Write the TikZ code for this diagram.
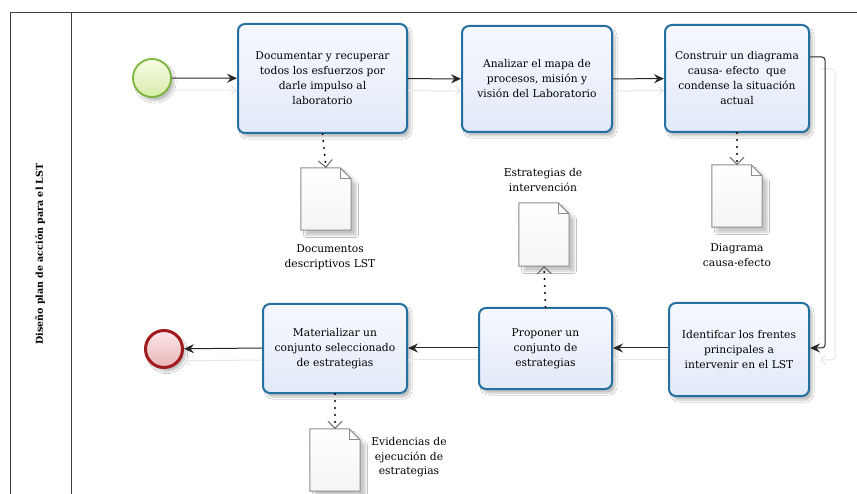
\documentclass[tikz,border=0pt]{standalone}
\usepackage{fontspec}
\setmainfont{DejaVu Serif}
\usetikzlibrary{arrows.meta,shadows.blur,calc}
\definecolor{boxborder}{RGB}{36,112,160}
\definecolor{boxtop}{RGB}{246,248,254}
\definecolor{boxbot}{RGB}{226,234,248}
\definecolor{startborder}{RGB}{122,180,60}
\definecolor{starttop}{RGB}{248,252,230}
\definecolor{startbot}{RGB}{214,236,170}
\definecolor{endborder}{RGB}{160,26,30}
\definecolor{endtop}{RGB}{252,232,232}
\definecolor{endbot}{RGB}{232,180,182}
\definecolor{docline}{RGB}{140,140,140}
\definecolor{ghostcol}{RGB}{230,230,232}
\tikzset{
  lanelines/.style={draw=black!75,line width=0.8pt},
  taskbox/.style={rounded corners=7pt,draw=boxborder,line width=2pt,
    top color=boxtop,bottom color=boxbot,align=center,
    font=\fontsize{10.7}{15}\selectfont,inner sep=0pt,
    blur shadow={shadow xshift=3pt,shadow yshift=-4pt,shadow blur steps=8,shadow opacity=25}},
  startev/.style={circle,draw=startborder,line width=1.8pt,minimum size=38pt,inner sep=0pt,
    top color=starttop,bottom color=startbot,
    blur shadow={shadow xshift=3pt,shadow yshift=-4pt,shadow blur steps=8,shadow opacity=25}},
  endev/.style={circle,draw=endborder,line width=3pt,minimum size=37pt,inner sep=0pt,
    top color=endtop,bottom color=endbot,
    blur shadow={shadow xshift=3pt,shadow yshift=-4pt,shadow blur steps=8,shadow opacity=25}},
  docnode/.style={minimum width=50pt,minimum height=62pt,inner sep=0pt},
  docshape/.style={draw=docline,line width=1pt,top color=white,bottom color=black!4,
    blur shadow={shadow xshift=5pt,shadow yshift=-5pt,shadow blur steps=8,shadow opacity=22}},
  doclabel/.style={align=center,font=\fontsize{10.7}{15}\selectfont,inner sep=0pt},
  flow/.style={draw=black!85,line width=1pt,-{Stealth[length=10pt,width=9pt,inset=3.5pt]}},
  ghost/.style={draw=ghostcol,line width=1pt,-{Straight Barb[length=5pt,width=9pt,line width=1pt]}},
  assoc/.style={draw=black,line width=2.2pt,line cap=round,dash pattern=on 0pt off 7pt,
    -{Straight Barb[length=7pt,width=14pt,line width=0.9pt,color=black!65,line cap=butt]}},
}
\newcommand\drawdoc[1]{%
  \path[docshape] (#1.south west) -- (#1.north west) -- ($(#1.north east)+(-11pt,0)$)
     -- ($(#1.north east)+(0,-11pt)$) -- (#1.south east) -- cycle;
  \draw[docline,line width=0.9pt] ($(#1.north east)+(-11pt,0)$) -- ($(#1.north east)+(-11pt,-11pt)$)
     -- ($(#1.north east)+(0,-11pt)$);
}
\begin{document}
\begin{tikzpicture}[x=1pt,y=-1pt]
\clip (0,0) rectangle (857,494);
\fill[white] (0,0) rectangle (857,494);
% lane frame
\draw[lanelines] (857,12) -- (10,12) -- (10,494);
\draw[lanelines] (71,12) -- (71,494);
\node[rotate=90,font=\bfseries\fontsize{9.5}{11}\selectfont] (lane) at (40,254) {Diseño plan de acción para el LST};

% events
\node[startev] (start) at (152,78) {};
\node[endev] (end) at (164,349) {};

% tasks
\node[taskbox,minimum width=169pt,minimum height=109pt] (b1) at (322.5,78.5)
  {Documentar y recuperar\\todos los esfuerzos por\\darle impulso al\\laboratorio};
\node[taskbox,minimum width=150pt,minimum height=106pt] (b2) at (537,79)
  {Analizar el mapa de\\procesos, misión y\\visión del Laboratorio};
\node[taskbox,minimum width=144pt,minimum height=107pt] (b3) at (737,78.5)
  {Construir un diagrama\\causa- efecto\ \ que\\condense la situación\\actual};
\node[taskbox,minimum width=140pt,minimum height=93pt] (b4) at (739,349.5)
  {Identifcar los frentes\\principales a\\intervenir en el LST};
\node[taskbox,minimum width=133pt,minimum height=81pt] (b5) at (545.5,348.5)
  {Proponer un\\conjunto de\\estrategias};
\node[taskbox,minimum width=144pt,minimum height=89pt] (b6) at (335,348.5)
  {Materializar un\\conjunto seleccionado\\de estrategias};

% documents
\node[docnode] (d1) at (326,199) {};
\node[docnode,minimum height=63pt] (d2) at (544,234.5) {};
\node[docnode] (d3) at (737,196) {};
\node[docnode] (d4) at (335,460) {};
\drawdoc{d1}
\drawdoc{d2}
\drawdoc{d3}
\drawdoc{d4}
\node[doclabel] (l1) at (330,257) {Documentos\\descriptivos LST};
\node[doclabel] (l2) at (543,180) {Estrategias de\\intervención};
\node[doclabel] (l3) at (737,255.5) {Diagrama\\causa-efecto};
\node[doclabel,font=\fontsize{10.7}{14.5}\selectfont] (l4) at (409,457.5) {Evidencias de\\ejecución de\\estrategias};

% ghost (shadow) connectors
\coordinate (c1) at (825,57);
\coordinate (c2) at (825,348);
\begin{scope}[transform canvas={shift={(0pt,-12pt)}}]
\draw[ghost] (start) -- (b1);
\draw[ghost] (b1) -- (b2);
\draw[ghost] (b2) -- (b3);
\draw[ghost] (b4.west |- c2) -- (b5.east |- c2);
\draw[ghost] (b5.west |- c2) -- (b6.east |- c2);
\draw[ghost] (b6.west |- c2) -- (end);
\end{scope}
\begin{scope}[transform canvas={shift={(10pt,-12pt)}}]
\draw[ghost,rounded corners=3pt] (b3.east |- c1) -- (c1) -- (c2) -- (b4.east |- c2);
\end{scope}

% sequence flows
\draw[flow] (start) -- (b1);
\draw[flow] (b1) -- (b2);
\draw[flow] (b2) -- (b3);
\draw[flow,rounded corners=3pt] (b3.east |- c1) -- (c1) -- (c2) -- (b4.east |- c2);
\draw[flow] (b4.west |- c2) -- (b5.east |- c2);
\draw[flow] (b5.west |- c2) -- (b6.east |- c2);
\draw[flow] (b6.west |- c2) -- (end);

% associations
\draw[assoc] (b1.south) -- (d1.north);
\draw[assoc] (b3.south) -- (d3.north);
\draw[assoc] (b5.north) -- (d2.south);
\draw[assoc] (b6.south) -- (d4.north);
\end{tikzpicture}
\end{document}
